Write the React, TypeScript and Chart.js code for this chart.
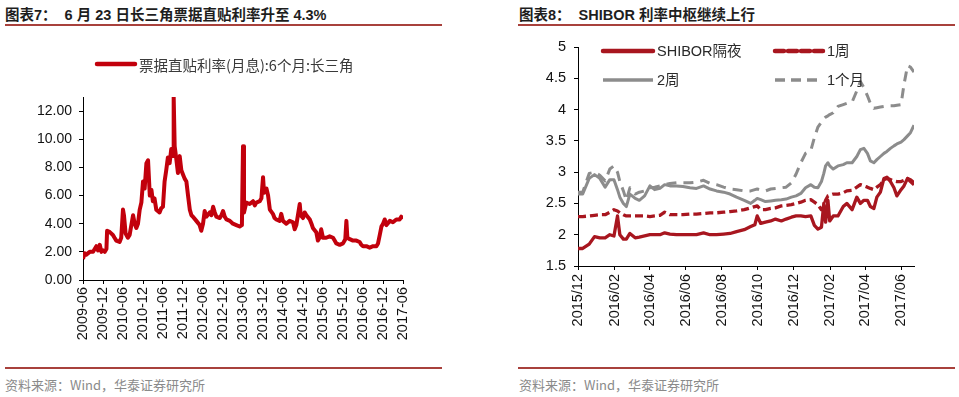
import React, { useEffect, useRef } from 'react';
import { Chart, registerables } from 'chart.js';

Chart.register(...registerables);

const FONT = "Arial, 'Liberation Sans', 'Noto Sans CJK SC', sans-serif";
const CJK = "'Noto Sans CJK SC', 'Liberation Sans', sans-serif";

// ---------- Chart 7: bill discount rate (月息, 6个月, 长三角) ----------
const billLabel = '票据直贴利率(月息):6个月:长三角';
const billTickLabels = ['2009-06', '2009-12', '2010-06', '2010-12', '2011-06', '2011-12', '2012-06', '2012-12', '2013-06', '2013-12', '2014-06', '2014-12', '2015-06', '2015-12', '2016-06', '2016-12', '2017-06'];
const billYTicks = [0, 2, 4, 6, 8, 10, 12];
const billDates = [
  '2009-06-01', '2009-06-16', '2009-07-01', '2009-08-01', '2009-09-01', '2009-10-01', '2009-10-16', '2009-11-01', '2009-11-16', '2009-12-01',
  '2009-12-16', '2010-01-01', '2010-01-07', '2010-02-01', '2010-03-01', '2010-03-16', '2010-04-01', '2010-05-01', '2010-05-16', '2010-06-01',
  '2010-06-10', '2010-06-25', '2010-07-16', '2010-08-01', '2010-09-01', '2010-09-16', '2010-10-01', '2010-10-16', '2010-11-01', '2010-11-16',
  '2010-12-01', '2010-12-16', '2011-01-01', '2011-01-16', '2011-02-01', '2011-02-16', '2011-03-01', '2011-03-16', '2011-04-01', '2011-05-01',
  '2011-05-16', '2011-06-01', '2011-06-16', '2011-07-01', '2011-07-16', '2011-08-01', '2011-08-16', '2011-09-01', '2011-09-07', '2011-09-16',
  '2011-10-01', '2011-10-16', '2011-11-01', '2011-11-16', '2011-12-01', '2011-12-16', '2012-01-01', '2012-01-16', '2012-02-01', '2012-02-16',
  '2012-03-01', '2012-04-01', '2012-05-01', '2012-05-16', '2012-06-01', '2012-06-16', '2012-07-01', '2012-08-01', '2012-08-16', '2012-09-01',
  '2012-09-16', '2012-10-01', '2012-11-01', '2012-11-16', '2012-12-01', '2012-12-16', '2013-01-01', '2013-02-01', '2013-03-01', '2013-04-01',
  '2013-05-01', '2013-05-22', '2013-06-01', '2013-06-10', '2013-07-01', '2013-08-01', '2013-09-01', '2013-09-16', '2013-10-01', '2013-11-01',
  '2013-11-16', '2013-12-01', '2013-12-10', '2014-01-01', '2014-01-16', '2014-02-01', '2014-03-01', '2014-03-16', '2014-04-01', '2014-05-01',
  '2014-05-16', '2014-06-01', '2014-07-01', '2014-08-01', '2014-09-01', '2014-09-16', '2014-10-01', '2014-11-01', '2014-11-10', '2014-12-01',
  '2014-12-16', '2015-01-01', '2015-02-01', '2015-02-16', '2015-03-01', '2015-04-01', '2015-04-16', '2015-05-01', '2015-05-16', '2015-06-01',
  '2015-07-01', '2015-08-01', '2015-09-01', '2015-09-16', '2015-10-01', '2015-11-01', '2015-12-01', '2015-12-22', '2016-01-01', '2016-01-10',
  '2016-02-01', '2016-03-01', '2016-04-01', '2016-05-01', '2016-05-16', '2016-06-01', '2016-07-01', '2016-08-01', '2016-09-01', '2016-10-01',
  '2016-10-16', '2016-11-01', '2016-11-16', '2016-12-01', '2016-12-16', '2017-01-01', '2017-02-01', '2017-03-01', '2017-04-01', '2017-05-01',
  '2017-05-16', '2017-06-01',
];
const billRates = [
  1.5, 1.9, 1.8, 2.0, 2.0, 2.4, 2.1, 2.5, 2.0, 2.1,
  2.0, 2.2, 3.5, 3.4, 3.2, 3.0, 2.8, 2.7, 3.0, 5.0,
  4.6, 3.3, 3.0, 3.2, 4.6, 4.0, 3.7, 4.0, 5.0, 5.5,
  7.0, 6.5, 8.3, 8.5, 6.0, 6.4, 5.6, 5.8, 5.0, 4.8,
  5.1, 5.2, 7.0, 7.8, 8.7, 8.3, 9.3, 8.8, 13.0, 9.5,
  8.6, 7.6, 8.8, 7.8, 7.5, 7.2, 7.0, 6.0, 5.0, 4.6,
  4.5, 4.2, 3.9, 3.5, 4.0, 4.9, 4.5, 4.8, 4.6, 5.2,
  4.8, 4.5, 4.4, 4.6, 4.9, 4.5, 4.3, 4.2, 4.0, 3.9,
  3.8, 3.9, 9.5, 4.8, 5.5, 5.4, 5.6, 5.3, 5.5, 5.6,
  5.8, 7.3, 6.2, 6.5, 6.0, 5.0, 4.7, 4.4, 4.3, 4.2,
  4.7, 4.2, 4.0, 4.2, 4.1, 3.6, 3.9, 5.4, 4.6, 4.4,
  4.8, 4.6, 4.3, 4.0, 3.7, 3.4, 2.8, 3.0, 3.6, 3.0,
  3.0, 3.1, 3.0, 2.8, 2.6, 2.5, 2.6, 2.9, 4.2, 3.0,
  2.9, 2.8, 2.8, 2.7, 2.5, 2.4, 2.4, 2.3, 2.4, 2.4,
  2.6, 3.2, 3.8, 4.0, 4.3, 3.9, 4.2, 4.1, 4.3, 4.3,
  4.5, 4.35,
];

// ---------- Chart 8: SHIBOR ----------
const shiborLabels = ['SHIBOR隔夜', '1周', '2周', '1个月'];
const shiborTickLabels = ['2015/12', '2016/02', '2016/04', '2016/06', '2016/08', '2016/10', '2016/12', '2017/02', '2017/04', '2017/06'];
const shiborYTicks = [1.5, 2, 2.5, 3, 3.5, 4, 4.5, 5];
const shiborDates = [
  '2015-12-01', '2015-12-09', '2015-12-20', '2015-12-29', '2016-01-07', '2016-01-16', '2016-01-24', '2016-01-31', '2016-02-06', '2016-02-10',
  '2016-02-16', '2016-02-21', '2016-02-27', '2016-03-07', '2016-03-14', '2016-03-23', '2016-04-01', '2016-04-09', '2016-04-18', '2016-04-26',
  '2016-05-05', '2016-05-16', '2016-05-27', '2016-06-08', '2016-06-19', '2016-07-01', '2016-07-12', '2016-07-23', '2016-08-04', '2016-08-15',
  '2016-08-26', '2016-09-08', '2016-09-19', '2016-09-26', '2016-09-30', '2016-10-06', '2016-10-14', '2016-10-23', '2016-10-31', '2016-11-10',
  '2016-11-18', '2016-11-27', '2016-12-05', '2016-12-13', '2016-12-21', '2016-12-30', '2017-01-05', '2017-01-11', '2017-01-17', '2017-01-21',
  '2017-01-24', '2017-01-28', '2017-01-31', '2017-02-06', '2017-02-14', '2017-02-23', '2017-03-01', '2017-03-10', '2017-03-18', '2017-03-24',
  '2017-03-30', '2017-04-05', '2017-04-10', '2017-04-16', '2017-04-21', '2017-04-27', '2017-05-03', '2017-05-08', '2017-05-14', '2017-05-20',
  '2017-05-25', '2017-06-01', '2017-06-06', '2017-06-12', '2017-06-17', '2017-06-23',
];
const shiborON = [
  1.78, 1.78, 1.85, 1.97, 1.95, 1.95, 2.00, 1.98, 2.30, 2.00,
  1.93, 1.93, 2.02, 1.95, 1.96, 1.98, 2.00, 2.00, 2.00, 2.03,
  2.01, 2.00, 2.00, 2.00, 2.00, 2.03, 2.00, 2.00, 2.01, 2.02,
  2.05, 2.08, 2.13, 2.16, 2.30, 2.18, 2.20, 2.22, 2.25, 2.22,
  2.25, 2.28, 2.30, 2.30, 2.29, 2.30, 2.15, 2.09, 2.12, 2.50,
  2.20, 2.55, 2.22, 2.30, 2.30, 2.45, 2.50, 2.40, 2.60, 2.50,
  2.55, 2.55, 2.45, 2.42, 2.60, 2.68, 2.90, 2.92, 2.85, 2.75,
  2.62, 2.72, 2.78, 2.90, 2.85, 2.80,
];
const shibor1W = [
  2.29, 2.29, 2.30, 2.31, 2.32, 2.32, 2.36, 2.40, 2.38, 2.35,
  2.32, 2.30, 2.30, 2.30, 2.30, 2.30, 2.29, 2.30, 2.31, 2.36,
  2.32, 2.32, 2.32, 2.33, 2.33, 2.34, 2.35, 2.35, 2.36, 2.37,
  2.38, 2.40, 2.43, 2.45, 2.46, 2.40, 2.40, 2.42, 2.43, 2.46,
  2.47, 2.48, 2.50, 2.52, 2.55, 2.56, 2.52, 2.48, 2.40, 2.45,
  2.55, 2.62, 2.63, 2.65, 2.65, 2.67, 2.70, 2.71, 2.76, 2.80,
  2.78, 2.76, 2.74, 2.72, 2.76, 2.80, 2.88, 2.90, 2.88, 2.86,
  2.85, 2.85, 2.87, 2.90, 2.88, 2.83,
];
const shibor2W = [
  2.65, 2.65, 2.90, 2.96, 2.90, 2.76, 2.88, 2.88, 2.72, 2.60,
  2.50, 2.45, 2.65, 2.58, 2.55, 2.62, 2.78, 2.72, 2.74, 2.80,
  2.78, 2.78, 2.77, 2.75, 2.74, 2.78, 2.73, 2.70, 2.68, 2.65,
  2.60, 2.55, 2.50, 2.55, 2.58, 2.56, 2.53, 2.54, 2.55, 2.56,
  2.57, 2.60, 2.62, 2.66, 2.75, 2.80, 2.76, 2.75, 2.85, 2.98,
  3.10, 3.15, 3.10, 3.05, 3.10, 3.12, 3.15, 3.15, 3.25, 3.36,
  3.38, 3.30, 3.18, 3.15, 3.20, 3.25, 3.30, 3.33, 3.38, 3.42,
  3.45, 3.48, 3.52, 3.58, 3.63, 3.75,
];
const shibor1M = [
  2.68, 2.68, 2.98, 3.00, 2.95, 2.86, 3.05, 3.10, 3.00, 2.85,
  2.70, 2.55, 2.75, 2.65, 2.68, 2.70, 2.75, 2.76, 2.78, 2.80,
  2.82, 2.83, 2.83, 2.83, 2.84, 2.87, 2.82, 2.80, 2.76, 2.73,
  2.72, 2.70, 2.70, 2.72, 2.73, 2.72, 2.70, 2.73, 2.74, 2.75,
  2.76, 2.83, 2.97, 3.15, 3.30, 3.35, 3.55, 3.72, 3.80, 3.85,
  3.88, 3.90, 3.92, 3.95, 4.05, 4.08, 4.10, 4.12, 4.30, 4.45,
  4.35, 4.22, 4.10, 4.02, 4.03, 4.04, 4.05, 4.05, 4.06, 4.06,
  4.07, 4.08, 4.40, 4.70, 4.68, 4.60,
];

// ---------- helpers ----------
function dayOf(s: string): number {
  const p = s.split(/[-/]/).map(Number);
  return Date.UTC(p[0], p[1] - 1, p[2] || 1) / 86400000;
}

type LegendItem = { index: number; x: number; y: number; len: number; width: number; dash?: number[]; cap?: CanvasLineCap };

function makeLegend(items: LegendItem[], font: string, color: string) {
  return {
    id: 'sketchLegend',
    afterDraw(chart: any) {
      const ctx = chart.ctx as CanvasRenderingContext2D;
      items.forEach((it) => {
        const ds = chart.data.datasets[it.index];
        ctx.save();
        ctx.strokeStyle = ds.borderColor;
        ctx.lineWidth = it.width;
        ctx.lineCap = it.cap || 'butt';
        ctx.setLineDash(it.dash || []);
        ctx.beginPath();
        ctx.moveTo(it.x, it.y);
        ctx.lineTo(it.x + it.len, it.y);
        ctx.stroke();
        ctx.setLineDash([]);
        ctx.fillStyle = color;
        ctx.font = font;
        ctx.textBaseline = 'middle';
        ctx.textAlign = 'left';
        ctx.fillText(ds.label, it.x + it.len + 4, it.y + 1);
        ctx.restore();
      });
    },
  };
}

const axisCommon = (size: number) => ({
  grid: { display: true, drawOnChartArea: false, drawTicks: true, tickLength: 4, color: '#000', lineWidth: 1 },
  border: { display: true, color: '#000', width: 1 },
  ticks: { color: '#111', font: { family: FONT, size } },
});

function billConfig(): any {
  const origin = dayOf(billTickLabels[0]);
  const end = dayOf(billTickLabels[billTickLabels.length - 1]) - origin;
  const base = axisCommon(14.5);
  return {
    type: 'line',
    data: {
      datasets: [
        {
          label: billLabel,
          data: billDates.map((d, i) => ({ x: dayOf(d) - origin, y: billRates[i] })),
          borderColor: '#c2000c',
          borderWidth: 4,
          pointRadius: 0,
          tension: 0,
          borderJoinStyle: 'round',
        },
      ],
    },
    options: {
      responsive: false,
      animation: false,
      events: [],
      layout: { padding: { left: 0, top: 97, right: 47, bottom: 0 } },
      plugins: { legend: { display: false }, tooltip: { enabled: false } },
      scales: {
        x: {
          type: 'linear',
          min: 0,
          max: end,
          grid: base.grid,
          border: base.border,
          ticks: {
            ...base.ticks,
            autoSkip: false,
            maxRotation: 90,
            minRotation: 90,
            padding: 3,
            callback: (_v: number, i: number) => billTickLabels[i],
          },
          afterBuildTicks: (s: any) => {
            s.ticks = billTickLabels.map((l) => ({ value: dayOf(l) - origin }));
          },
          afterFit: (s: any) => {
            s.height = 85;
          },
        },
        y: {
          type: 'linear',
          min: 0,
          max: 13,
          grid: base.grid,
          border: base.border,
          ticks: {
            ...axisCommon(14).ticks,
            padding: 7,
            callback: (v: number) => Number(v).toFixed(2),
          },
          afterBuildTicks: (s: any) => {
            s.ticks = billYTicks.map((v) => ({ value: v }));
          },
          afterFit: (s: any) => {
            s.width = 83;
          },
        },
      },
    },
    plugins: [
      makeLegend([{ index: 0, x: 97, y: 64, len: 38, width: 4.5, cap: 'round' }], `14.5px ${CJK}`, '#3a3a3a'),
    ],
  };
}

function shiborConfig(): any {
  const origin = dayOf(shiborTickLabels[0]);
  const end = dayOf(shiborDates[shiborDates.length - 1]) - origin;
  const base = axisCommon(14.5);
  const red = '#a8161f';
  const gray = '#8c8c8c';
  const series = [shiborON, shibor1W, shibor2W, shibor1M];
  const styles = [
    { color: red, width: 3.3, dash: [] as number[] },
    { color: red, width: 3.3, dash: [8, 4] },
    { color: gray, width: 3, dash: [] as number[] },
    { color: gray, width: 3, dash: [10, 7] },
  ];
  return {
    type: 'line',
    data: {
      datasets: series.map((vals, k) => ({
        label: shiborLabels[k],
        data: shiborDates.map((d, i) => ({ x: dayOf(d) - origin, y: vals[i] })),
        borderColor: styles[k].color,
        borderWidth: styles[k].width,
        borderDash: styles[k].dash,
        pointRadius: 0,
        tension: 0,
        borderJoinStyle: 'round',
      })),
    },
    options: {
      responsive: false,
      animation: false,
      events: [],
      layout: { padding: { left: 0, top: 47, right: 45, bottom: 0 } },
      plugins: { legend: { display: false }, tooltip: { enabled: false } },
      scales: {
        x: {
          type: 'linear',
          min: 0,
          max: end,
          grid: base.grid,
          border: base.border,
          ticks: {
            ...base.ticks,
            autoSkip: false,
            maxRotation: 90,
            minRotation: 90,
            padding: 4,
            callback: (_v: number, i: number) => shiborTickLabels[i],
          },
          afterBuildTicks: (s: any) => {
            s.ticks = shiborTickLabels.map((l) => ({ value: dayOf(l) - origin }));
          },
          afterFit: (s: any) => {
            s.height = 99;
          },
        },
        y: {
          type: 'linear',
          min: 1.5,
          max: 5,
          grid: base.grid,
          border: base.border,
          ticks: {
            ...axisCommon(14.5).ticks,
            padding: 8,
            callback: (v: number) => String(v),
          },
          afterBuildTicks: (s: any) => {
            s.ticks = shiborYTicks.map((v) => ({ value: v }));
          },
          afterFit: (s: any) => {
            s.width = 98;
          },
        },
      },
    },
    plugins: [
      makeLegend(
        [
          { index: 0, x: 123, y: 51, len: 50, width: 4.5, cap: 'round' },
          { index: 1, x: 295, y: 51, len: 48, width: 4.5, dash: [9, 4], cap: 'round' },
          { index: 2, x: 123, y: 80, len: 50, width: 3.5 },
          { index: 3, x: 295, y: 80, len: 48, width: 3.5, dash: [10, 6] },
        ],
        `14.5px ${FONT}`,
        '#2a2a2a'
      ),
    ],
  };
}

function ChartCanvas({ make, left, top, width, height }: { make: () => any; left: number; top: number; width: number; height: number }) {
  const ref = useRef<HTMLCanvasElement | null>(null);
  useEffect(() => {
    if (!ref.current) return;
    const chart = new Chart(ref.current, make());
    return () => chart.destroy();
  }, []);
  return <canvas ref={ref} width={width} height={height} style={{ position: 'absolute', left, top, width, height }} />;
}

const titleStyle: React.CSSProperties = {
  position: 'absolute',
  top: 6,
  fontFamily: FONT,
  fontWeight: 'bold',
  fontSize: 14.5,
  lineHeight: '18px',
  color: '#1e1e1e',
  whiteSpace: 'pre',
};
const sourceStyle: React.CSSProperties = {
  position: 'absolute',
  top: 376,
  fontFamily: CJK,
  fontSize: 13,
  lineHeight: '18px',
  color: '#8a8a8a',
  whiteSpace: 'pre',
};
const rule = (left: number, top: number): React.CSSProperties => ({
  position: 'absolute',
  left,
  top,
  width: 437,
  height: 2,
  background: '#a8413c',
});

export default function App() {
  return (
    <div style={{ position: 'absolute', left: 0, top: 0, width: 959, height: 397, background: '#fff', overflow: 'hidden' }}>
      <div style={{ ...titleStyle, left: 5 }}>{'图表7：  6 月 23 日长三角票据直贴利率升至 4.3%'}</div>
      <div style={rule(5, 24)} />
      <div style={{ ...titleStyle, left: 519 }}>{'图表8：  SHIBOR 利率中枢继续上行'}</div>
      <div style={rule(518, 24)} />
      <ChartCanvas make={billConfig} left={0} top={0} width={450} height={365} />
      <ChartCanvas make={shiborConfig} left={480} top={0} width={479} height={365} />
      <div style={rule(5, 367)} />
      <div style={rule(518, 367)} />
      <div style={{ ...sourceStyle, left: 5 }}>{'资料来源：Wind，华泰证券研究所'}</div>
      <div style={{ ...sourceStyle, left: 519 }}>{'资料来源：Wind，华泰证券研究所'}</div>
    </div>
  );
}
